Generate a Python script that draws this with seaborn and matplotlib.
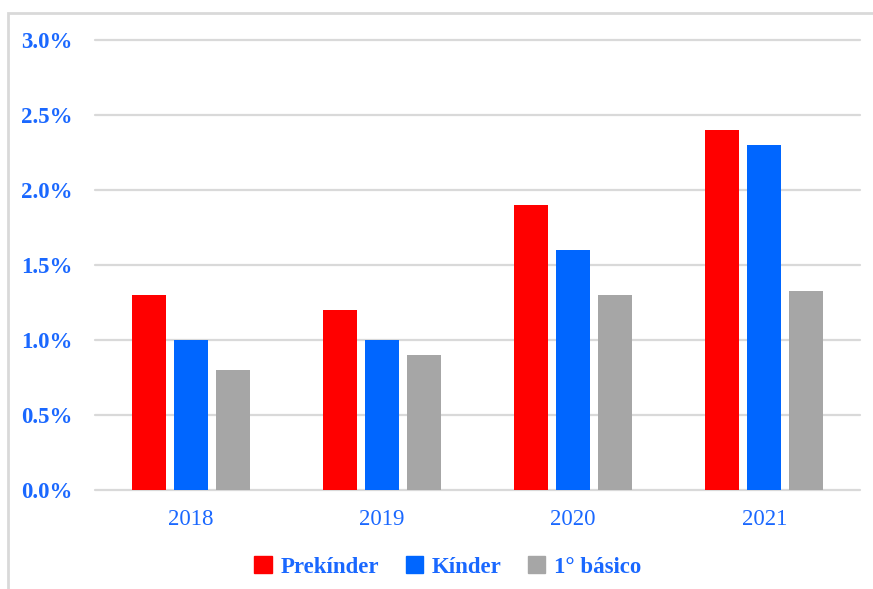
import numpy as np
import pandas as pd
import matplotlib
matplotlib.use("Agg")
import matplotlib.pyplot as plt
import seaborn as sns
from matplotlib.patches import Rectangle
from matplotlib.ticker import FuncFormatter

# --- datos ---
years = ["2018", "2019", "2020", "2021"]
niveles = ["Prekínder", "Kínder", "1° básico"]
prekinder = [1.3, 1.2, 1.9, 2.4]
kinder = [1.0, 1.0, 1.6, 2.3]
basico = [0.8, 0.9, 1.3, 1.33]
y_ticks = [0.0, 0.5, 1.0, 1.5, 2.0, 2.5, 3.0]

colores = ["#FF0000", "#0066FF", "#A6A6A6"]
azul_texto = "#1A68FF"
gris_linea = "#D9D9D9"

df = pd.DataFrame({
    "year": years * 3,
    "nivel": np.repeat(niveles, len(years)),
    "valor": prekinder + kinder + basico,
})

sns.set_style("white")
plt.rcParams["font.family"] = ["Liberation Serif", "DejaVu Serif"]

fig = plt.figure(figsize=(8.73, 5.89), dpi=100)
ax = fig.add_axes([95 / 873, 99 / 589, 765 / 873, 450 / 589])

sns.barplot(data=df, x="year", y="valor", hue="nivel", hue_order=niveles,
            palette=colores, width=0.66, gap=0.19, saturation=1,
            linewidth=0, ax=ax, legend=False)

ax.set_ylim(0, 3.0)
ax.set_xlim(-0.5, 3.5)
ax.set_yticks(y_ticks)
ax.yaxis.set_major_formatter(FuncFormatter(lambda v, p: f"{v:.1f}%"))
ax.set_xlabel("")
ax.set_ylabel("")
ax.set_axisbelow(True)
ax.grid(axis="y", color=gris_linea, linewidth=1.6)
ax.grid(axis="x", visible=False)
for s in ax.spines.values():
    s.set_visible(False)
for gl in ax.get_ygridlines():
    gl.set_clip_on(False)

ax.tick_params(axis="both", length=0)
ax.tick_params(axis="y", pad=16)
ax.tick_params(axis="x", pad=14)
for lbl in ax.get_yticklabels():
    lbl.set_fontsize(16.5)
    lbl.set_fontweight("bold")
    lbl.set_color(azul_texto)
for lbl in ax.get_xticklabels():
    lbl.set_fontsize(16.5)
    lbl.set_color(azul_texto)

# leyenda
handles = [Rectangle((0, 0), 1, 1, color=c) for c in colores]
leg = fig.legend(handles, niveles, loc="center",
                 bbox_to_anchor=(448 / 873, 1 - 567 / 589), ncol=3,
                 frameon=False, handlelength=0.75, handleheight=0.75,
                 handletextpad=0.4, columnspacing=1.15,
                 prop={"weight": "bold", "size": 16.5})
for t in leg.get_texts():
    t.set_color(azul_texto)

# marco gris de la figura
fig.patches.append(Rectangle((8 / 873, -0.1), 1.2, 1.1 - 13 / 589,
                             transform=fig.transFigure, fill=False,
                             edgecolor=gris_linea, linewidth=2))

fig.savefig("out.png", dpi=100, facecolor="white")
